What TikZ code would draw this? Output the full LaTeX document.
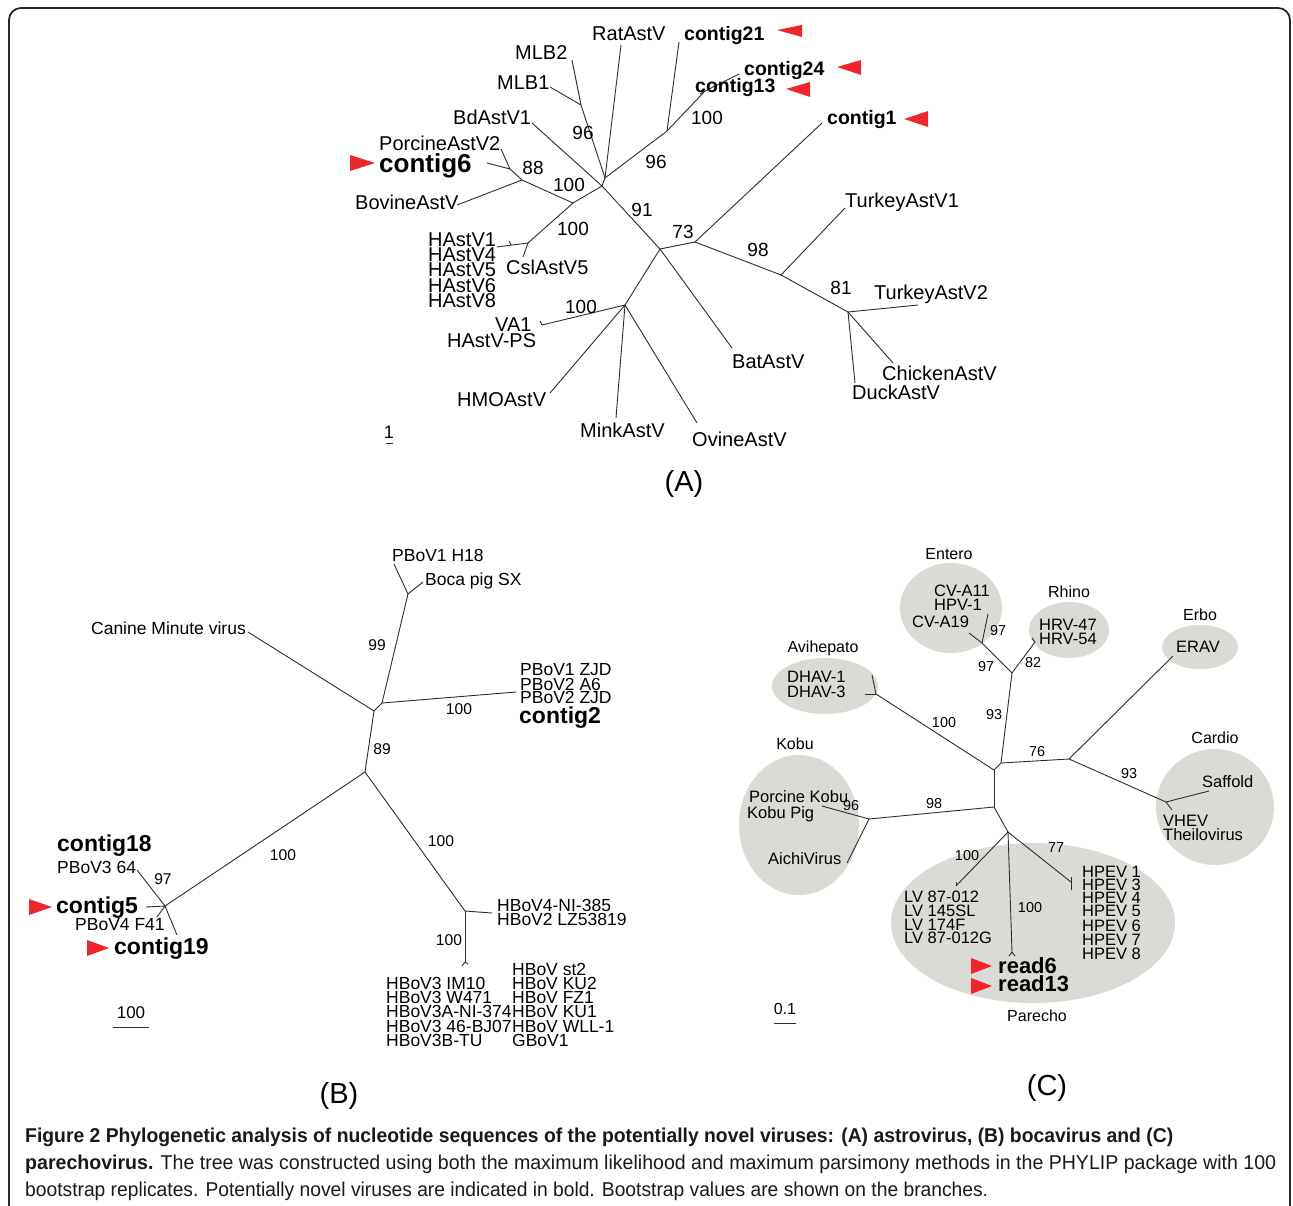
\documentclass[tikz,border=0pt]{standalone}
\usepackage{fontspec}
\setmainfont{Liberation Sans}
\usepackage{graphicx}
\usetikzlibrary{positioning}

\definecolor{markred}{RGB}{236,38,44}
\definecolor{cladegray}{RGB}{219,219,213}
\definecolor{branchgray}{RGB}{45,45,45}
\definecolor{framegray}{RGB}{40,40,40}

\begin{document}
\begin{tikzpicture}[x=1pt,y=-1pt,
    branch/.style={draw=branchgray,line width=0.9pt},
    leafA/.style={font=\fontsize{20}{20}\selectfont,inner sep=0pt,text height=14.3pt,text depth=0pt,anchor=west},
    contA/.style={leafA,font=\fontsize{19.5}{20}\selectfont\bfseries},
    bootA/.style={font=\fontsize{19}{19}\selectfont,inner sep=0pt,text height=13.6pt,text depth=0pt},
    leafB/.style={font=\fontsize{17.5}{18}\selectfont,inner sep=0pt,text height=12.5pt,text depth=0pt,anchor=west},
    contB/.style={leafB,font=\fontsize{23}{23}\selectfont\bfseries,text height=16.5pt},
    bootB/.style={font=\fontsize{15.6}{16}\selectfont,inner sep=0pt,text height=11.2pt,text depth=0pt},
    leafC/.style={font=\fontsize{16.5}{17}\selectfont,inner sep=0pt,text height=11.8pt,text depth=0pt,anchor=west},
    readC/.style={leafC,font=\fontsize{22}{22}\selectfont\bfseries,text height=15.8pt},
    bootC/.style={font=\fontsize{14.4}{15}\selectfont,inner sep=0pt,text height=10.3pt,text depth=0pt},
    clade/.style={fill=cladegray,draw=none},
    cladename/.style={font=\fontsize{16}{16}\selectfont,inner sep=0pt,text height=11.5pt,text depth=0pt},
    panel/.style={font=\fontsize{29}{29}\selectfont,inner sep=0pt,text height=21pt,text depth=0pt},
    scalebar/.style={draw=branchgray,line width=1pt},
    marker/.style={fill=markred},
    capline/.style={anchor=west,inner sep=0pt,text height=14.3pt,text depth=0pt,font=\fontsize{20}{20}\selectfont,text=black!90}]

  \useasboundingbox (0,0) rectangle (1293,1205);
  \draw[framegray,line width=1.8pt,rounded corners=12pt] (9,1210) -- (9,8) -- (1290,8) -- (1290,1210);

  % ---------- (A) astrovirus ----------
  \coordinate (aRoot) at (602,186);
  \coordinate (aTop)  at (605,178);
  \coordinate (aMLB)  at (581,105);
  \coordinate (aMLB2) at (572,60);
  \coordinate (aMLB1) at (550,87);
  \coordinate (aRat)  at (621,45);
  \coordinate (aCtg)  at (667,131);
  \coordinate (aC21)  at (679,42);
  \coordinate (aCtg2) at (705,91);
  \coordinate (aC24)  at (739,74);
  \coordinate (aC13)  at (700,94);
  \coordinate (aBd)   at (532,123);
  \coordinate (aMid)  at (573,203);
  \coordinate (aBov)  at (522,180);
  \coordinate (aBovL) at (457,205);
  \coordinate (aPor)  at (510,169);
  \coordinate (aPorL) at (501,149);
  \coordinate (aC6)   at (487,163);
  \coordinate (aHA)   at (528,243);
  \coordinate (aHAL)  at (497,247);
  \coordinate (aHAk)  at (511,245);
  \coordinate (aHAt)  at (509,241);
  \coordinate (aCsl)  at (523,257);
  \coordinate (a91)   at (660,249);
  \coordinate (a73)   at (695,242);
  \coordinate (aC1)   at (822,123);
  \coordinate (a98)   at (781,275);
  \coordinate (aTk1)  at (845,208);
  \coordinate (a81)   at (848,312);
  \coordinate (aTk2)  at (918,305);
  \coordinate (aChk)  at (893,363);
  \coordinate (aDuck) at (855,383);
  \coordinate (aBat)  at (732,348);
  \coordinate (aLow)  at (625,305);
  \coordinate (aVA)   at (542,325);
  \coordinate (aVAt)  at (540,321);
  \coordinate (aHMO)  at (550,393);
  \coordinate (aMink) at (616,418);
  \coordinate (aOvi)  at (697,423);

  \path[branch] (aRoot) edge (aTop) edge (aBd) edge (aMid) edge (a91);
  \path[branch] (aTop) edge (aMLB) edge (aRat) edge (aCtg);
  \path[branch] (aMLB) edge (aMLB2) edge (aMLB1);
  \path[branch] (aCtg) edge (aC21) edge (aCtg2);
  \path[branch] (aCtg2) edge (aC24) edge (aC13);
  \path[branch] (aMid) edge (aBov) edge (aHA);
  \path[branch] (aBov) edge (aBovL) edge (aPor);
  \path[branch] (aPor) edge (aPorL) edge (aC6);
  \path[branch] (aHA) edge (aHAL) edge (aCsl);
  \path[branch] (aHAk) edge (aHAt);
  \path[branch] (a91) edge (a73) edge (aBat) edge (aLow);
  \path[branch] (a73) edge (aC1) edge (a98);
  \path[branch] (a98) edge (aTk1) edge (a81);
  \path[branch] (a81) edge (aTk2) edge (aChk) edge (aDuck);
  \path[branch] (aLow) edge (aVA) edge (aHMO) edge (aMink) edge (aOvi);
  \path[branch] (aVA) edge (aVAt);

  \node[leafA] (ratA)   at (592,33)  {RatAstV};
  \node[contA] (ctg21)  at (684,33)  {contig21};
  \node[leafA] (mlb2)   at (515,52)  {MLB2};
  \node[leafA] (mlb1)   at (497,82)  {MLB1};
  \node[leafA] (bdA)    at (453,117) {BdAstV1};
  \node[leafA] (porA)   at (379,143) {PorcineAstV2};
  \node[contA,font=\fontsize{26}{26}\selectfont\bfseries,text height=18.6pt] (ctg6) at (379,163) {contig6};
  \node[leafA] (bovA)   at (355,202) {BovineAstV};
  \node[contA] (ctg24)  at (744,68)  {contig24};
  \node[contA] (ctg13)  at (695,85)  {contig13};
  \node[contA] (ctg1)   at (827,117) {contig1};
  \node[leafA] (tk1A)   at (845,200) {TurkeyAstV1};
  \node[leafA] (tk2A)   at (874,292) {TurkeyAstV2};
  \node[leafA] (chkA)   at (882,373) {ChickenAstV};
  \node[leafA] (duckA)  at (852,392) {DuckAstV};
  \node[leafA] (batA)   at (732,361) {BatAstV};
  \node[leafA] (ha1)    at (428,239) {HAstV1};
  \node[leafA] (ha4)    at (428,254) {HAstV4};
  \node[leafA] (ha5)    at (428,269) {HAstV5};
  \node[leafA] (ha6)    at (428,285) {HAstV6};
  \node[leafA] (ha8)    at (428,300) {HAstV8};
  \node[leafA] (cslA)   at (506,267) {CslAstV5};
  \node[leafA] (va1)    at (495,324) {VA1};
  \node[leafA] (haps)   at (447,340) {HAstV-PS};
  \node[leafA] (hmoA)   at (457,399) {HMOAstV};
  \node[leafA] (minkA)  at (580,430) {MinkAstV};
  \node[leafA] (oviA)   at (692,439) {OvineAstV};

  \node[bootA] (bA1)  at (583,133) {96};
  \node[bootA] (bA2)  at (533,168) {88};
  \node[bootA] (bA3)  at (569,185) {100};
  \node[bootA] (bA4)  at (656,162) {96};
  \node[bootA] (bA5)  at (707,118) {100};
  \node[bootA] (bA6)  at (642,210) {91};
  \node[bootA] (bA7)  at (573,229) {100};
  \node[bootA] (bA8)  at (683,232) {73};
  \node[bootA] (bA9)  at (758,250) {98};
  \node[bootA] (bA10) at (841,288) {81};
  \node[bootA] (bA11) at (581,307) {100};

  \fill[marker] (350,155) -- (375,163) -- (350,171) -- cycle;
  \fill[marker] (777,30) -- (802,25) -- (802,37) -- cycle;
  \fill[marker] (837,67) -- (861,60) -- (861,75) -- cycle;
  \fill[marker] (786,89) -- (810,82) -- (810,97) -- cycle;
  \fill[marker] (904,119) -- (928,111) -- (928,127) -- cycle;

  \node[bootA,font=\fontsize{18}{18}\selectfont] (sclA) at (389,432) {1};
  \coordinate (sA1) at (386,443);
  \coordinate (sA2) at (393,443);
  \path[scalebar] (sA1) edge (sA2);
  \node[panel] (panA) at (684,481) {(A)};

  % ---------- (B) bocavirus ----------
  \coordinate (b1)    at (374,711);
  \coordinate (b2)    at (382,703);
  \coordinate (bP)    at (408,594);
  \coordinate (bH18)  at (394,564);
  \coordinate (bSX)   at (423,582);
  \coordinate (bZJD)  at (516,692);
  \coordinate (bCan)  at (248,632);
  \coordinate (b3)    at (365,772);
  \coordinate (bC)    at (165,906);
  \coordinate (bP364) at (137,870);
  \coordinate (bC5)   at (146,907);
  \coordinate (bP4)   at (157,917);
  \coordinate (bC19)  at (177,935);
  \coordinate (bH)    at (465,911);
  \coordinate (bH4)   at (492,913);
  \coordinate (bH3)   at (465,962);
  \coordinate (bH3a)  at (462,966);
  \coordinate (bH3b)  at (468,964);

  \path[branch] (b1) edge (bCan) edge (b2) edge (b3);
  \path[branch] (b2) edge (bP) edge (bZJD);
  \path[branch] (bP) edge (bH18) edge (bSX);
  \path[branch] (b3) edge (bC) edge (bH);
  \path[branch] (bC) edge (bP364) edge (bC5) edge (bP4) edge (bC19);
  \path[branch] (bH) edge (bH4) edge (bH3);
  \path[branch] (bH3) edge (bH3a) edge (bH3b);

  \node[leafB] (h18B)  at (392,555) {PBoV1 H18};
  \node[leafB] (sxB)   at (425,579) {Boca pig SX};
  \node[leafB,anchor=east] (canB) at (246,628) {Canine Minute virus};
  \node[leafB] (zjd1)  at (520,669) {PBoV1 ZJD};
  \node[leafB] (a6B)   at (520,684) {PBoV2 A6};
  \node[leafB] (zjd2)  at (520,697) {PBoV2 ZJD};
  \node[contB] (ctg2)  at (519,715) {contig2};
  \node[contB] (ctg18) at (57,843)  {contig18};
  \node[leafB] (p364)  at (57,867)  {PBoV3 64};
  \node[contB] (ctg5)  at (56,905)  {contig5};
  \node[leafB] (p4f41) at (75,924)  {PBoV4 F41};
  \node[contB] (ctg19) at (114,946) {contig19};
  \node[leafB] (hb4)   at (497,905) {HBoV4-NI-385};
  \node[leafB] (hb2)   at (497,919) {HBoV2 LZ53819};
  \node[leafB] (hb3a)  at (386,983) {HBoV3 IM10};
  \node[leafB] (hb3b)  at (386,997) {HBoV3 W471};
  \node[leafB] (hb3c)  at (386,1011) {HBoV3A-NI-374};
  \node[leafB] (hb3d)  at (386,1026) {HBoV3 46-BJ07};
  \node[leafB] (hb3e)  at (386,1040) {HBoV3B-TU};
  \node[leafB] (hbst)  at (512,969) {HBoV st2};
  \node[leafB] (hbku2) at (512,983) {HBoV KU2};
  \node[leafB] (hbfz)  at (512,997) {HBoV FZ1};
  \node[leafB] (hbku1) at (512,1011) {HBoV KU1};
  \node[leafB] (hbwll) at (512,1026) {HBoV WLL-1};
  \node[leafB] (gbov)  at (512,1040) {GBoV1};

  \node[bootB] (bB1) at (377,645) {99};
  \node[bootB] (bB2) at (459,709) {100};
  \node[bootB] (bB3) at (382,749) {89};
  \node[bootB] (bB4) at (441,841) {100};
  \node[bootB] (bB5) at (283,855) {100};
  \node[bootB] (bB6) at (163,879) {97};
  \node[bootB] (bB7) at (449,940) {100};

  \fill[marker] (29,899) -- (52,907) -- (29,915) -- cycle;
  \fill[marker] (87,940) -- (109,948) -- (87,956) -- cycle;

  \node[bootB,font=\fontsize{17}{17}\selectfont,text height=12.2pt] (sclB) at (131,1012) {100};
  \coordinate (sB1) at (113,1027);
  \coordinate (sB2) at (149,1027);
  \path[scalebar] (sB1) edge (sB2);
  \node[panel] (panB) at (339,1093) {(B)};

  % ---------- (C) parechovirus ----------
  \fill[clade] (951,608) ellipse [x radius=51,y radius=45];
  \fill[clade] (1069,630) ellipse [x radius=40,y radius=28];
  \fill[clade] (1200,647) ellipse [x radius=38,y radius=22];
  \fill[clade] (825,686) ellipse [x radius=53,y radius=28];
  \fill[clade] (799,825) ellipse [x radius=60,y radius=70];
  \fill[clade] (1215,807) ellipse [x radius=59,y radius=58];
  \fill[clade] (1033,923) ellipse [x radius=142,y radius=80];

  \coordinate (c1)    at (1001,763);
  \coordinate (c2)    at (994,770);
  \coordinate (c3)    at (994,807);
  \coordinate (cER)   at (1012,673);
  \coordinate (cEn)   at (982,643);
  \coordinate (cA19)  at (969,633);
  \coordinate (cEi)   at (988,614);
  \coordinate (cRh)   at (1035,642);
  \coordinate (cRht)  at (1032,638);
  \coordinate (cEC)   at (1069,759);
  \coordinate (cERAV) at (1173,656);
  \coordinate (cCa)   at (1166,802);
  \coordinate (cSaf)  at (1209,791);
  \coordinate (cVH)   at (1172,810);
  \coordinate (cAv)   at (876,694);
  \coordinate (cDH1)  at (872,675);
  \coordinate (cDH3)  at (865,694);
  \coordinate (cK)    at (869,819);
  \coordinate (cPK)   at (822,806);
  \coordinate (cAi)   at (847,863);
  \coordinate (cPa)   at (1008,832);
  \coordinate (cLV)   at (956,886);
  \coordinate (cLVt)  at (956,882);
  \coordinate (cRd)   at (1012,952);
  \coordinate (cRda)  at (1009,956);
  \coordinate (cRdb)  at (1015,956);
  \coordinate (cHP)   at (1071,882);
  \coordinate (cHPa)  at (1071,877);
  \coordinate (cHPb)  at (1071,890);

  \path[branch] (c1) edge (cER) edge (cEC) edge (c2);
  \path[branch] (c2) edge (cAv) edge (c3);
  \path[branch] (c3) edge (cK) edge (cPa);
  \path[branch] (cER) edge (cEn) edge (cRh);
  \path[branch] (cEn) edge (cA19) edge (cEi);
  \path[branch] (cRh) edge (cRht);
  \path[branch] (cEC) edge (cERAV) edge (cCa);
  \path[branch] (cCa) edge (cSaf) edge (cVH);
  \path[branch] (cAv) edge (cDH1) edge (cDH3);
  \path[branch] (cK) edge (cPK) edge (cAi);
  \path[branch] (cPa) edge (cLV) edge (cRd) edge (cHP);
  \path[branch] (cLV) edge (cLVt);
  \path[branch] (cRd) edge (cRda) edge (cRdb);
  \path[branch] (cHPa) edge (cHPb);

  \node[cladename] (entC)  at (949,554)  {Entero};
  \node[cladename] (rhiC)  at (1069,592) {Rhino};
  \node[cladename] (erbC)  at (1200,615) {Erbo};
  \node[cladename] (aviC)  at (823,647)  {Avihepato};
  \node[cladename] (kobC)  at (795,744)  {Kobu};
  \node[cladename] (carC)  at (1215,738) {Cardio};
  \node[cladename] (parC)  at (1037,1016) {Parecho};

  \node[leafC] (cva11) at (934,591) {CV-A11};
  \node[leafC] (hpv1)  at (934,605) {HPV-1};
  \node[leafC] (cva19) at (912,622) {CV-A19};
  \node[leafC] (hrv47) at (1039,625) {HRV-47};
  \node[leafC] (hrv54) at (1039,639) {HRV-54};
  \node[leafC] (erav)  at (1176,647) {ERAV};
  \node[leafC] (dhav1) at (787,677) {DHAV-1};
  \node[leafC] (dhav3) at (787,692) {DHAV-3};
  \node[leafC] (pkobu) at (749,797) {Porcine Kobu};
  \node[leafC] (kpig)  at (747,813) {Kobu Pig};
  \node[leafC] (aichi) at (768,859) {AichiVirus};
  \node[leafC] (saff)  at (1202,782) {Saffold};
  \node[leafC] (vhev)  at (1163,821) {VHEV};
  \node[leafC] (theil) at (1163,835) {Theilovirus};
  \node[leafC] (lv1)   at (904,897) {LV 87-012};
  \node[leafC] (lv2)   at (904,911) {LV 145SL};
  \node[leafC] (lv3)   at (904,925) {LV 174F};
  \node[leafC] (lv4)   at (904,938) {LV 87-012G};
  \node[leafC] (hp1)   at (1082,872) {HPEV 1};
  \node[leafC] (hp3)   at (1082,885) {HPEV 3};
  \node[leafC] (hp4)   at (1082,898) {HPEV 4};
  \node[leafC] (hp5)   at (1082,911) {HPEV 5};
  \node[leafC] (hp6)   at (1082,926) {HPEV 6};
  \node[leafC] (hp7)   at (1082,940) {HPEV 7};
  \node[leafC] (hp8)   at (1082,954) {HPEV 8};
  \node[readC] (rd6)   at (998,966) {read6};
  \node[readC] (rd13)  at (998,984) {read13};

  \node[bootC] (bC1)  at (986,666)  {97};
  \node[bootC] (bC2)  at (998,630)  {97};
  \node[bootC] (bC3)  at (1033,662) {82};
  \node[bootC] (bC4)  at (994,714)  {93};
  \node[bootC] (bC5)  at (944,722)  {100};
  \node[bootC] (bC6)  at (1037,751) {76};
  \node[bootC] (bC7)  at (1129,773) {93};
  \node[bootC] (bC8)  at (934,803)  {98};
  \node[bootC] (bC9)  at (851,805)  {96};
  \node[bootC] (bC10) at (967,855)  {100};
  \node[bootC] (bC11) at (1030,907) {100};
  \node[bootC] (bC12) at (1056,847) {77};

  \fill[marker] (971,958) -- (992,966) -- (971,974) -- cycle;
  \fill[marker] (971,978) -- (992,986) -- (971,994) -- cycle;

  \node[bootC,font=\fontsize{16}{16}\selectfont,text height=11.5pt] (sclC) at (785,1009) {0.1};
  \coordinate (sC1) at (774,1023);
  \coordinate (sC2) at (796,1023);
  \path[scalebar] (sC1) edge (sC2);
  \node[panel] (panC) at (1047,1085) {(C)};

  % ---------- caption ----------
  \node[capline] (cap1) at (25,1135) {\resizebox{1148pt}{\height}{\bfseries Figure 2 Phylogenetic analysis of nucleotide sequences of the potentially novel viruses: (A) astrovirus, (B) bocavirus and (C)}};
  \node[capline] (cap2) at (25,1162) {\resizebox{1251pt}{\height}{\textbf{parechovirus.} The tree was constructed using both the maximum likelihood and maximum parsimony methods in the PHYLIP package with 100}};
  \node[capline] (cap3) at (25,1189) {\resizebox{963pt}{\height}{bootstrap replicates. Potentially novel viruses are indicated in bold. Bootstrap values are shown on the branches.}};
\end{tikzpicture}
\end{document}
